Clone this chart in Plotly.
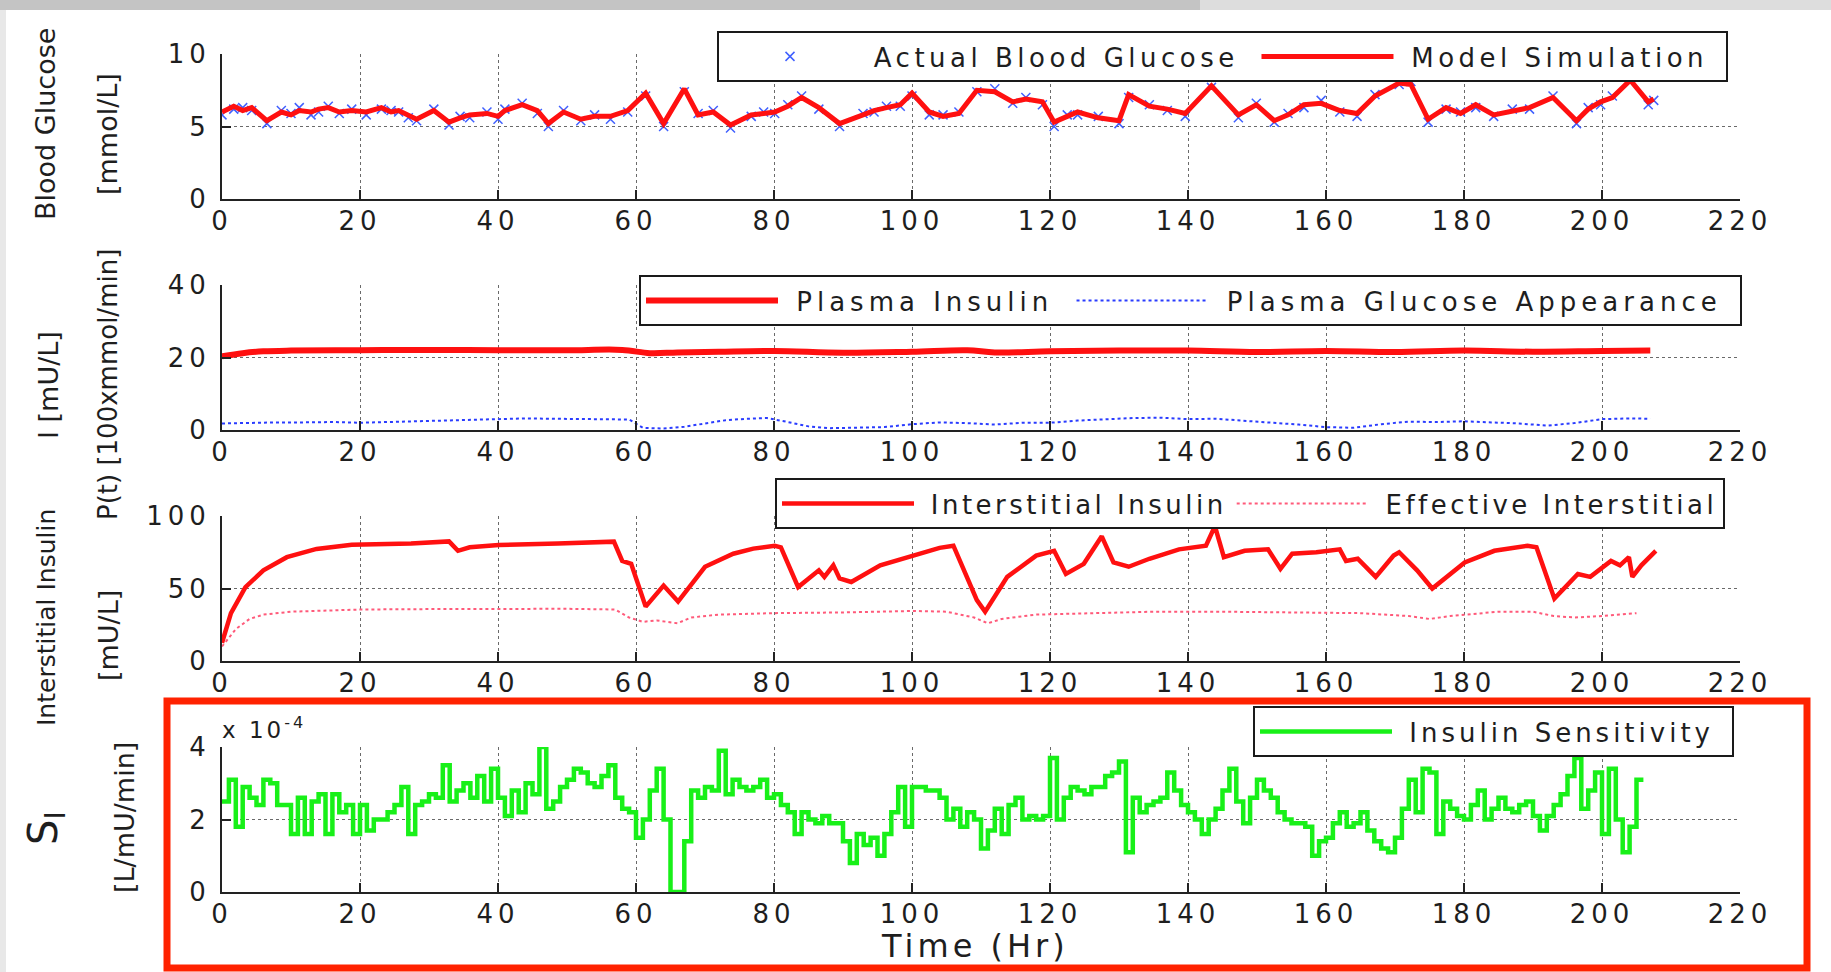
import plotly.graph_objects as go

# ---------------- data ----------------
x_ticks = [0, 20, 40, 60, 80, 100, 120, 140, 160, 180, 200, 220]

# Panel 1: blood glucose [mmol/L]
bg_time = [0, 1.7, 3.0, 4.3, 6.5, 8.6, 10.0, 11.2, 12.9, 14.0,
           15.4, 17.0, 18.8, 20.9, 23.1, 24.5, 25.6, 27.0, 28.2, 30.7,
           32.9, 34.5, 35.9, 38.4, 40.0, 41.0, 43.5, 45.7, 47.3, 49.5,
           52.0, 54.0, 56.3, 58.8, 61.4, 64.0, 67.0, 69.0, 71.2, 73.7,
           76.7, 78.5, 80.1, 82.0, 84.0, 86.5, 89.5, 92.9, 94.5, 96.3,
           98.3, 100.0, 102.5, 104.5, 106.8, 109.4, 112.0, 114.6, 116.5, 118.9,
           120.6, 122.5, 124.0, 127.0, 130.0, 131.4, 134.4, 137.0, 139.6, 143.4,
           147.3, 149.9, 152.5, 154.5, 156.8, 159.3, 162.0, 164.5, 167.1, 170.6,
           172.3, 174.8, 177.4, 179.5, 181.7, 184.3, 187.0, 189.5, 192.9, 196.3,
           198.0, 199.8, 201.5, 204.1, 206.7, 207.5]
bg_model = [6.0, 6.4, 6.1, 6.3, 5.4, 6.0, 5.8, 6.1, 6.0, 6.2,
            6.3, 6.0, 6.1, 6.0, 6.3, 6.0, 6.1, 5.8, 5.5, 6.1,
            5.3, 5.6, 5.8, 5.9, 5.7, 6.1, 6.5, 6.1, 5.2, 6.0,
            5.5, 5.7, 5.7, 6.1, 7.3, 5.2, 7.6, 5.8, 6.0, 5.1,
            5.8, 5.9, 6.0, 6.4, 7.0, 6.3, 5.2, 5.8, 6.1, 6.3,
            6.5, 7.3, 6.0, 5.7, 5.9, 7.5, 7.4, 6.7, 6.9, 6.7,
            5.3, 5.7, 6.0, 5.6, 5.4, 7.2, 6.4, 6.2, 5.9, 7.8,
            5.8, 6.5, 5.4, 5.8, 6.5, 6.6, 6.1, 5.9, 7.1, 8.0,
            7.9, 5.5, 6.3, 5.9, 6.5, 5.8, 6.1, 6.3, 7.0, 5.4,
            6.2, 6.7, 7.0, 8.2, 6.7, 6.9]
bg_actual = [5.8, 6.2, 6.3, 6.1, 5.2, 6.1, 5.9, 6.3, 5.8, 6.0,
             6.4, 5.9, 6.2, 5.8, 6.2, 6.1, 6.0, 5.6, 5.4, 6.2,
             5.1, 5.7, 5.6, 6.0, 5.5, 6.2, 6.6, 5.9, 5.0, 6.1,
             5.4, 5.8, 5.5, 6.0, 7.1, 5.0, 7.4, 5.9, 6.1, 4.9,
             5.7, 6.0, 5.9, 6.5, 7.1, 6.2, 5.0, 5.9, 6.0, 6.4,
             6.4, 7.1, 5.8, 5.8, 6.0, 7.4, 7.6, 6.6, 7.0, 6.5,
             5.0, 5.8, 5.8, 5.7, 5.2, 7.0, 6.5, 6.1, 5.7, 7.7,
             5.6, 6.6, 5.3, 5.9, 6.3, 6.8, 6.0, 5.7, 7.2, 7.9,
             8.1, 5.3, 6.2, 6.0, 6.3, 5.7, 6.2, 6.2, 7.1, 5.2,
             6.3, 6.5, 7.1, 8.4, 6.5, 6.8]

# Panel 2: plasma insulin [mU/L] and glucose appearance [100 x mmol/min]
pi_time = [0, 3, 6, 10, 20, 30, 40, 50, 58, 62, 66, 72, 80, 90,
           100, 108, 112, 120, 130, 140, 150, 160, 170, 180, 190, 200, 207]
pi_vals = [20.3, 21.2, 21.7, 21.9, 22.0, 22.1, 22.0, 22.0, 22.1, 21.2, 21.4, 21.6, 21.8, 21.3,
           21.6, 22.0, 21.4, 21.7, 21.9, 21.9, 21.5, 21.8, 21.5, 21.9, 21.6, 21.8, 21.9]
pa_time = [0, 4, 8, 12, 16, 20, 24, 28, 32, 36,
           40, 44, 48, 52, 56, 59, 61, 64, 67, 70,
           73, 76, 79, 82, 85, 88, 92, 96, 100, 104,
           108, 112, 116, 120, 124, 128, 132, 136, 140, 144,
           148, 152, 156, 160, 164, 168, 172, 176, 180, 184,
           188, 192, 196, 200, 204, 207]
pa_vals = [1.8, 2.0, 2.1, 2.1, 2.2, 2.0, 2.3, 2.4, 2.6, 2.8,
           3.0, 3.2, 3.1, 3.1, 3.0, 2.9, 0.6, 0.4, 0.9, 1.8,
           2.7, 3.1, 3.3, 2.2, 1.0, 0.5, 0.6, 0.8, 1.6, 2.1,
           1.9, 1.5, 2.0, 2.0, 2.6, 3.0, 3.3, 3.4, 3.0, 3.1,
           2.6, 2.2, 1.5, 0.8, 0.6, 1.6, 2.3, 2.2, 2.4, 2.1,
           1.8, 1.2, 1.9, 3.0, 3.2, 3.1]

# Panel 3: interstitial insulin [mU/L]
ii_time = [0, 1.3, 3.4, 6.0, 9.4, 13.7, 18.8, 27.4, 32.9, 34.2,
           35.9, 40.1, 48.7, 56.8, 58.0, 59.3, 61.4, 64.0, 66.1, 70.0,
           74.1, 77.0, 80.1, 81.0, 83.5, 86.5, 87.3, 88.6, 89.5, 91.2,
           95.4, 100.5, 104.0, 106.0, 109.4, 110.6, 113.8, 118.0, 120.6, 122.3,
           124.9, 127.5, 129.2, 131.4, 134.4, 138.7, 142.6, 143.9, 145.2, 148.2,
           151.6, 153.4, 155.1, 158.6, 162.0, 162.9, 164.6, 167.2, 169.8, 170.6,
           173.2, 175.4, 180.1, 184.4, 189.2, 190.5, 193.1, 196.5, 198.3, 201.3,
           202.6, 203.9, 204.4, 205.7, 207.8]
ii_vals = [12.5, 33, 51, 62.5, 71.6, 77.3, 80.2, 81, 82.5, 76,
           78.4, 80, 81, 82.3, 69, 67, 37.5, 52, 41, 65,
           74, 77.5, 79.5, 78.4, 51, 62.5, 58, 66, 57, 54.5,
           66, 72.7, 78, 79.5, 42, 34, 58, 72.7, 76, 60,
           67, 86, 68, 65, 70.5, 77, 79.5, 93, 71.6, 76,
           77, 63.6, 74, 75, 77, 69, 70.5, 58, 72.7, 75,
           62.5, 50, 68, 76, 79.5, 78.4, 43, 60, 58, 69,
           66, 71.6, 58, 66, 76]
ie_time = [0, 2, 4, 6, 10, 15, 20, 30, 40, 50,
           57, 59, 61, 63, 66, 68, 72, 80, 90, 100,
           105, 109, 111, 113, 118, 125, 135, 145, 155, 165,
           172, 175, 178, 185, 190, 193, 196, 200, 205]
ie_vals = [10, 22, 29, 32, 34, 35, 35.5, 35.8, 36, 36,
           35.5, 30, 27, 28, 26, 30, 32, 33, 33.5, 34.5,
           34, 30, 26, 29, 32, 33, 34, 34, 33.5, 33,
           31, 29, 31, 34, 34, 31, 30, 31, 33]

# Panel 4: hourly insulin sensitivity, in units of 1e-4 L/mU/min
si_vals = [2.5, 3.1, 1.8, 2.9, 2.6, 2.4, 3.1, 3.0, 2.4, 2.4,
           1.6, 2.6, 1.6, 2.5, 2.7, 1.6, 2.7, 2.2, 2.4, 1.6,
           2.4, 1.7, 2.0, 2.0, 2.2, 2.4, 2.9, 1.6, 2.4, 2.5,
           2.7, 2.6, 3.5, 2.5, 2.8, 3.0, 2.6, 3.2, 2.5, 3.4,
           2.6, 2.1, 2.8, 2.2, 3.0, 2.7, 4.0, 2.3, 2.5, 2.9,
           3.1, 3.4, 3.3, 3.0, 2.9, 3.2, 3.5, 2.6, 2.3, 2.2,
           1.5, 2.0, 2.8, 3.4, 2.0, 0.0, 0.0, 1.4, 2.8, 2.6,
           2.9, 2.8, 3.9, 2.7, 3.1, 2.9, 2.8, 2.9, 3.1, 2.6,
           2.7, 2.4, 2.2, 1.6, 2.2, 2.0, 1.9, 2.1, 1.9, 1.9,
           1.4, 0.8, 1.6, 1.3, 1.5, 1.0, 1.6, 2.2, 2.9, 1.8,
           2.9, 2.9, 2.8, 2.8, 2.6, 2.0, 2.3, 1.8, 2.2, 2.0,
           1.2, 1.7, 2.3, 1.6, 2.4, 2.6, 2.0, 2.1, 2.0, 2.1,
           3.7, 2.0, 2.6, 2.9, 2.8, 2.7, 2.9, 2.9, 3.2, 3.3,
           3.6, 1.1, 2.6, 2.2, 2.4, 2.5, 2.6, 3.3, 2.8, 2.4,
           2.2, 2.0, 1.6, 2.0, 2.3, 2.8, 3.4, 2.5, 1.9, 2.6,
           3.1, 2.8, 2.6, 2.2, 2.0, 1.9, 1.9, 1.8, 1.0, 1.4,
           1.5, 1.9, 2.2, 1.8, 1.9, 2.2, 1.7, 1.4, 1.2, 1.1,
           1.5, 2.3, 3.1, 2.2, 3.4, 3.3, 1.6, 2.5, 2.3, 2.1,
           2.0, 2.4, 2.8, 2.0, 2.3, 2.6, 2.3, 2.2, 2.4, 2.5,
           2.1, 1.7, 2.1, 2.4, 2.7, 3.2, 3.7, 2.3, 2.8, 3.3,
           1.6, 3.4, 2.0, 1.1, 1.8, 3.1, 3.1]
si_time = list(range(len(si_vals)))

y1_ticks = [0, 5, 10]
y2_ticks = [0, 20, 40]
y3_ticks = [0, 50, 100]
y4_ticks = [0, 2, 4]

# ---------------- styling ----------------
W, H = 1831, 972
FONT = "DejaVu Sans"
TXT = "#1e1e1e"
RED = "#ff1010"


def fx(px):
    return px / W


def fy(py):
    return 1 - py / H


def spaced(text, gap):
    return f'<span style="letter-spacing:{gap}px">{text}</span>'


def entry(text, gap, trail=True):
    # legend label with a little breathing room around the text
    return spaced("&nbsp;" + text + ("&nbsp;" if trail else ""), gap)


X_DOMAIN = [fx(222), fx(1740)]
PANELS = [(54, 199), (285, 430), (516, 661), (747, 892)]  # top/bottom in px

fig = go.Figure()

fig.add_trace(go.Scatter(
    x=bg_time, y=bg_actual, mode="markers", name=entry("Actual Blood Glucose", 4.5),
    marker=dict(symbol="x-thin", size=9, color="#4060ff", line=dict(width=1.5, color="#4060ff")),
    xaxis="x", yaxis="y", legend="legend"))
fig.add_trace(go.Scatter(
    x=bg_time, y=bg_model, mode="lines", name=entry("Model Simulation", 4.5),
    line=dict(color=RED, width=5), xaxis="x", yaxis="y", legend="legend"))

fig.add_trace(go.Scatter(
    x=pi_time, y=pi_vals, mode="lines", name=entry("Plasma Insulin", 5),
    line=dict(color=RED, width=6, shape="spline"), xaxis="x2", yaxis="y2", legend="legend2"))
fig.add_trace(go.Scatter(
    x=pa_time, y=pa_vals, mode="lines", name=entry("Plasma Glucose Appearance", 5),
    line=dict(color="#2a3cff", width=2, dash="dot"), xaxis="x2", yaxis="y2", legend="legend2"))

fig.add_trace(go.Scatter(
    x=ii_time, y=ii_vals, mode="lines", name=entry("Interstitial Insulin", 3.5, trail=False),
    line=dict(color=RED, width=4.5), xaxis="x3", yaxis="y3", legend="legend3"))
fig.add_trace(go.Scatter(
    x=ie_time, y=ie_vals, mode="lines", name=entry("Effective Interstitial", 3.5, trail=False),
    line=dict(color="#ff5a7a", width=2, dash="dot"), xaxis="x3", yaxis="y3", legend="legend3"))

fig.add_trace(go.Scatter(
    x=si_time, y=si_vals, mode="lines", name=entry("Insulin Sensitivity", 4),
    line=dict(color="#18f018", width=4.5, shape="hv"), xaxis="x4", yaxis="y4", legend="legend4"))

tick_font = dict(family=FONT, size=26, color=TXT)
common = dict(ticks="inside", ticklen=9, tickwidth=1.5, tickcolor="#222",
              showline=True, linecolor="#222", linewidth=2,
              showgrid=True, gridcolor="#6a6a6a", griddash="dot", gridwidth=1,
              zeroline=False, tickfont=tick_font, fixedrange=True, automargin=False)

layout_axes = {}
y_tick_sets = [y1_ticks, y2_ticks, y3_ticks, y4_ticks]
for i, ((top, bottom), yt) in enumerate(zip(PANELS, y_tick_sets), start=1):
    sfx = "" if i == 1 else str(i)
    layout_axes[f"xaxis{sfx}"] = dict(
        domain=X_DOMAIN, anchor=f"y{sfx}", range=[0, 220],
        tickmode="array", tickvals=x_ticks,
        ticktext=[spaced(v, 5) for v in x_ticks], ticklabelstandoff=-2, **common)
    layout_axes[f"yaxis{sfx}"] = dict(
        domain=[fy(bottom), fy(top)], anchor=f"x{sfx}", range=[yt[0], yt[-1]],
        tickmode="array", tickvals=yt,
        ticktext=[spaced(v, 5) for v in yt], ticklabelstandoff=4, **common)


def legend_cfg(right_px, top_px):
    return dict(x=fx(right_px), xanchor="right", y=fy(top_px), yanchor="top",
                orientation="h", bgcolor="white", bordercolor="#1a1a1a", borderwidth=2,
                font=dict(family=FONT, size=26, color=TXT), itemwidth=132,
                traceorder="normal")


def ylabel(text, cx, cy, size=27):
    return dict(text=text, x=fx(cx), y=fy(cy), xref="paper", yref="paper",
                textangle=-90, showarrow=False, xanchor="center", yanchor="middle",
                font=dict(family=FONT, size=size, color=TXT))


annotations = [
    ylabel("Blood Glucose", 46, 124),
    ylabel("[mmol/L]", 108, 134),
    ylabel("I [mU/L]", 48, 385),
    ylabel("P(t) [100xmmol/min]", 108, 385, size=26),
    ylabel("Interstitial Insulin", 46, 618, size=25),
    ylabel("[mU/L]", 108, 636),
    ylabel("S<sub>I</sub>", 46, 828, size=40),
    ylabel("[L/mU/min]", 124, 818),
    dict(text=spaced("x 10<sup>-4</sup>", 3), x=fx(220), y=fy(728), xref="paper", yref="paper",
         showarrow=False, xanchor="left", yanchor="middle",
         font=dict(family=FONT, size=23, color=TXT)),
    dict(text=spaced("Time (Hr)", 4), x=fx(975), y=fy(946), xref="paper", yref="paper",
         showarrow=False, xanchor="center", yanchor="middle",
         font=dict(family=FONT, size=32, color=TXT)),
]

shapes = [
    # grey strip along the top edge and a faint one down the left edge
    dict(type="rect", xref="paper", yref="paper", x0=0, x1=fx(1200), y0=fy(10), y1=1,
         fillcolor="#c4c4c4", line=dict(width=0), layer="below"),
    dict(type="rect", xref="paper", yref="paper", x0=fx(1200), x1=1, y0=fy(10), y1=1,
         fillcolor="#dddddd", line=dict(width=0), layer="below"),
    dict(type="rect", xref="paper", yref="paper", x0=0, x1=fx(6), y0=0, y1=fy(10),
         fillcolor="#e8e8e8", line=dict(width=0), layer="below"),
    # red highlight frame around the insulin sensitivity panel
    dict(type="rect", xref="paper", yref="paper", x0=fx(167), x1=fx(1807),
         y0=fy(968), y1=fy(701), line=dict(color="#ff2200", width=7),
         fillcolor="rgba(0,0,0,0)", layer="above"),
]

fig.update_layout(
    width=W, height=H, autosize=False,
    # fixed margins: legends must not push the plotting area around
    margin=dict(l=0, r=0, t=0, b=0, pad=0, autoexpand=False),
    paper_bgcolor="white", plot_bgcolor="white",
    font=dict(family=FONT, color=TXT),
    showlegend=True,
    legend=legend_cfg(1728, 31),
    legend2=legend_cfg(1742, 275),
    legend3=legend_cfg(1725, 478),
    legend4=legend_cfg(1734, 706),
    annotations=annotations,
    shapes=shapes,
    **layout_axes,
)

fig.write_html("out.html", config={"responsive": False},
               post_script="document.body.style.margin='0';")
